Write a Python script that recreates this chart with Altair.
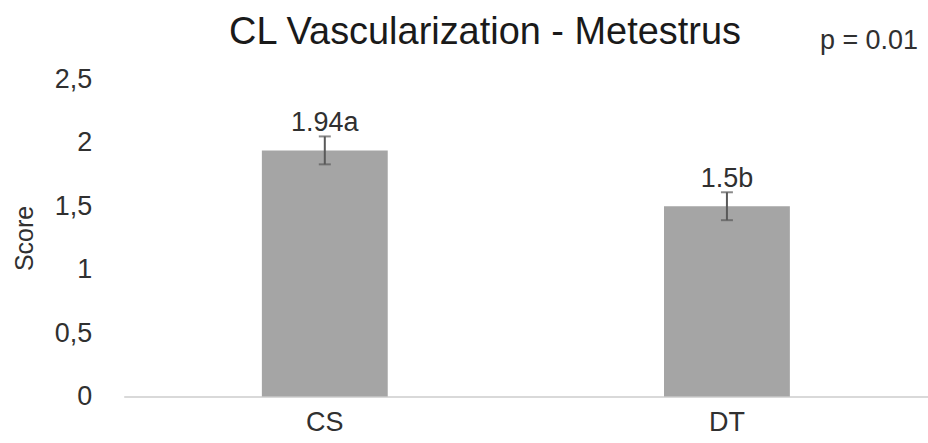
import altair as alt
import pandas as pd

groups = ["CS", "DT"]
means = [1.94, 1.50]
errors = [0.11, 0.11]
labels = ["1.94a", "1.5b"]
p_text = "p = 0.01"
title_text = "CL Vascularization - Metestrus"

df = pd.DataFrame({
    "group": groups,
    "mean": means,
    "lo": [m - e for m, e in zip(means, errors)],
    "hi": [m + e for m, e in zip(means, errors)],
    "label": labels,
})

FONT = "Liberation Sans"
TXT = "#303030"

x_enc = alt.X("group:N", sort=groups, title=None,
              scale=alt.Scale(paddingInner=0.687, paddingOuter=0.3435),
              axis=alt.Axis(labelFontSize=27, labelFont=FONT, labelColor=TXT,
                            labelAngle=0, ticks=False, labelPadding=13,
                            domainColor="#d9d9d9", domainWidth=2))

y_scale = alt.Scale(domain=[0, 2.5], nice=False)

bars = alt.Chart(df).mark_bar(color="#a5a5a5").encode(
    x=x_enc,
    y=alt.Y("mean:Q", scale=y_scale, title="Score",
            axis=alt.Axis(values=[0, 0.5, 1, 1.5, 2, 2.5], format=".1~f",
                          labelExpr="replace(datum.label, '.', ',')",
                          labelFontSize=27, labelFont=FONT, labelColor=TXT,
                          ticks=False, domain=False, grid=False,
                          labelPadding=32, titleFontSize=25, titleFont=FONT,
                          titleColor=TXT, titleFontWeight="normal",
                          titlePadding=17)),
)

rule = alt.Chart(df).mark_rule(color="#595959", strokeWidth=2).encode(
    x=alt.X("group:N", sort=groups),
    y=alt.Y("lo:Q", scale=y_scale),
    y2="hi:Q",
)

caps_hi = alt.Chart(df).mark_tick(color="#595959", size=12, thickness=2).encode(
    x=alt.X("group:N", sort=groups),
    y=alt.Y("hi:Q", scale=y_scale),
)
caps_lo = alt.Chart(df).mark_tick(color="#595959", size=12, thickness=2).encode(
    x=alt.X("group:N", sort=groups),
    y=alt.Y("lo:Q", scale=y_scale),
)

text = alt.Chart(df).mark_text(fontSize=27, font=FONT, color=TXT,
                               baseline="alphabetic", dy=-5).encode(
    x=alt.X("group:N", sort=groups),
    y=alt.Y("hi:Q", scale=y_scale),
    text="label:N",
)

ptxt = alt.Chart(pd.DataFrame({"t": [p_text]})).mark_text(
    fontSize=27, font=FONT, color=TXT, align="right", baseline="alphabetic"
).encode(x=alt.value(796), y=alt.value(-30), text="t:N")

ttxt = alt.Chart(pd.DataFrame({"t": [title_text]})).mark_text(
    fontSize=38, font=FONT, color="#1a1a1a", align="center", baseline="alphabetic"
).encode(x=alt.value(362), y=alt.value(-35), text="t:N")

chart = alt.layer(bars, rule, caps_hi, caps_lo, text, ptxt, ttxt).properties(
    width=806, height=318,
    background="white",
    autosize=alt.AutoSizeParams(type="none"),
    padding={"left": 124, "top": 79, "right": 0, "bottom": 46},
).configure_view(strokeWidth=0, stroke="transparent")

chart.save("out.html", embed_options={"renderer": "svg", "actions": False})
